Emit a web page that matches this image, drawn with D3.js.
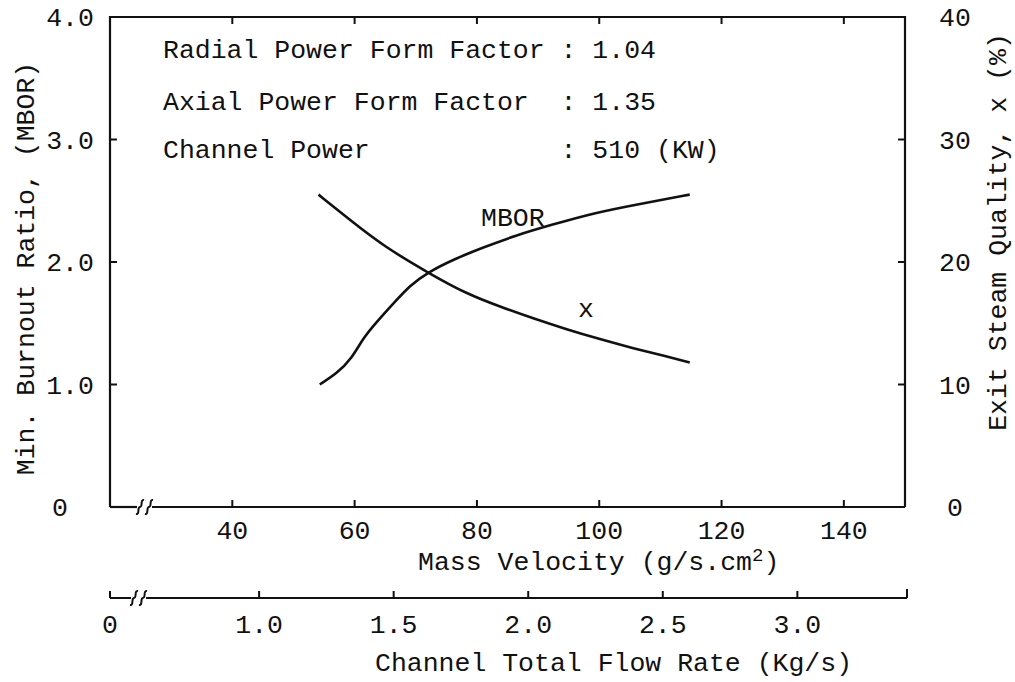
<!DOCTYPE html>
<html>
<head>
<meta charset="utf-8">
<script src="https://cdn.jsdelivr.net/npm/d3@7"></script>
<style>
  html, body { margin: 0; padding: 0; background: #fff; }
  svg { display: block; }
  text { font-family: "Liberation Mono", "Courier New", monospace; fill: #111; white-space: pre; }
</style>
</head>
<body>
<svg id="chart" width="1015" height="682"></svg>
<script>
// Mass velocity G (g/s.cm2) and the two curves read against it
const massVelocityMBOR = [54.3, 57.1, 59.5, 61.4, 63.6, 66.3, 69.1, 71.8, 76.1, 81.1, 86.5, 92.0, 99.0, 107.2, 114.8];
const mborValues       = [1.00, 1.09, 1.21, 1.38, 1.51, 1.66, 1.81, 1.91, 2.02, 2.12, 2.22, 2.30, 2.40, 2.48, 2.55];
const massVelocityX    = [54.1, 59.3, 64.7, 72.1, 78.3, 83.8, 89.2, 94.7, 100.1, 105.6, 111.0, 114.8];
const qualityValues    = [25.5, 23.4, 21.3, 19.1, 17.4, 16.35, 15.4, 14.5, 13.7, 12.95, 12.3, 11.8];

// Axis ticks and labels
const velocityTicks = [40, 60, 80, 100, 120, 140];
const flowTicks     = [1.0, 1.5, 2.0, 2.5, 3.0];
const flowTickLabels = ["1.0", "1.5", "2.0", "2.5", "3.0"];
const mborTicks     = [0, 1, 2, 3, 4];
const mborTickLabels = ["0", "1.0", "2.0", "3.0", "4.0"];
const qualityTicks  = [0, 10, 20, 30, 40];

// Operating conditions printed inside the frame
const conditionNames  = ["Radial Power Form Factor", "Axial Power Form Factor", "Channel Power"];
const conditionValues = ["1.04", "1.35", "510 (KW)"];

const svg = d3.select("#chart");
const ink = "#111";
const fs = 26.5;

const x  = d3.scaleLinear().domain([20, 150]).range([110, 905]);
const xf = d3.scaleLinear().domain([0.446, 3.40]).range([110, 905]);
const yM = d3.scaleLinear().domain([0, 4]).range([507, 17]);
const yQ = d3.scaleLinear().domain([0, 40]).range([507, 17]);

const plotL = x.range()[0], plotR = x.range()[1];
const plotT = yM.range()[1], plotB = yM.range()[0];

// Frame (left, top, right); bottom edge drawn with a break
svg.append("path")
  .attr("d", `M${plotL},${plotB} V${plotT} H${plotR} V${plotB}`)
  .attr("fill", "none").attr("stroke", ink).attr("stroke-width", 2.2);

// Break symbol: two small S-shaped strokes across the axis line
function breakMark(g, cx, cy) {
  [-4.5, 4.5].forEach(dx => {
    const bx = cx + dx;
    g.append("path")
      .attr("d", `M${bx - 4},${cy + 7} C${bx},${cy + 8} ${bx - 3},${cy} ${bx},${cy} C${bx + 3},${cy} ${bx},${cy - 8} ${bx + 4},${cy - 7}`)
      .attr("fill", "none").attr("stroke", ink).attr("stroke-width", 2);
  });
}

// Mass velocity axis along the bottom of the frame
const gx = svg.append("g");
gx.append("line").attr("x1", plotL).attr("x2", 137).attr("y1", plotB).attr("y2", plotB)
  .attr("stroke", ink).attr("stroke-width", 2.2);
gx.append("line").attr("x1", 152).attr("x2", plotR).attr("y1", plotB).attr("y2", plotB)
  .attr("stroke", ink).attr("stroke-width", 2.2);
breakMark(gx, 144.5, plotB);
velocityTicks.forEach(v => {
  gx.append("line").attr("x1", x(v)).attr("x2", x(v)).attr("y1", plotB).attr("y2", plotB - 7)
    .attr("stroke", ink).attr("stroke-width", 2);
  svg.append("line").attr("x1", x(v)).attr("x2", x(v)).attr("y1", plotT).attr("y2", plotT + 7)
    .attr("stroke", ink).attr("stroke-width", 2);
  gx.append("text").attr("x", x(v)).attr("y", 539).attr("text-anchor", "middle")
    .attr("font-size", fs).text(v);
});
const mv = svg.append("text").attr("x", 418).attr("y", 570).attr("font-size", fs);
mv.append("tspan").text("Mass Velocity (g/s.cm");
mv.append("tspan").attr("dy", -9).attr("font-size", 19).text("2");
mv.append("tspan").attr("dy", 9).text(")");

// Channel total flow rate axis
const fy = 598;
const gf = svg.append("g");
gf.append("line").attr("x1", plotL).attr("x2", plotL).attr("y1", fy - 7).attr("y2", fy)
  .attr("stroke", ink).attr("stroke-width", 2);
gf.append("line").attr("x1", plotL).attr("x2", 131).attr("y1", fy).attr("y2", fy)
  .attr("stroke", ink).attr("stroke-width", 2);
gf.append("line").attr("x1", 146).attr("x2", xf.range()[1] + 2).attr("y1", fy).attr("y2", fy)
  .attr("stroke", ink).attr("stroke-width", 2);
gf.append("line").attr("x1", xf.range()[1] + 2).attr("x2", xf.range()[1] + 2).attr("y1", fy - 9).attr("y2", fy)
  .attr("stroke", ink).attr("stroke-width", 2);
breakMark(gf, 138.5, fy);
flowTicks.forEach((f, i) => {
  gf.append("line").attr("x1", xf(f)).attr("x2", xf(f)).attr("y1", fy).attr("y2", fy - 7)
    .attr("stroke", ink).attr("stroke-width", 2);
  gf.append("text").attr("x", xf(f)).attr("y", 633).attr("text-anchor", "middle")
    .attr("font-size", fs).text(flowTickLabels[i]);
});
gf.append("text").attr("x", plotL).attr("y", 633).attr("text-anchor", "middle")
  .attr("font-size", fs).text("0");
svg.append("text").attr("x", 375).attr("y", 671).attr("font-size", fs)
  .text("Channel Total Flow Rate (Kg/s)");

// Left axis: minimum burnout ratio
mborTicks.forEach((m, i) => {
  if (m > 0 && m < 4) {
    svg.append("line").attr("x1", plotL).attr("x2", plotL + 7).attr("y1", yM(m)).attr("y2", yM(m))
      .attr("stroke", ink).attr("stroke-width", 2);
  }
  svg.append("text").attr("x", m === 0 ? 60 : 70).attr("y", yM(m) + 9).attr("text-anchor", "middle")
    .attr("font-size", fs).text(mborTickLabels[i]);
});
svg.append("text").attr("transform", `translate(34,${(55 + 482) / 2}) rotate(-90)`)
  .attr("text-anchor", "middle").attr("font-size", fs).text("Min. Burnout Ratio, (MBOR)");

// Right axis: exit steam quality
qualityTicks.forEach(q => {
  if (q > 0 && q < 40) {
    svg.append("line").attr("x1", plotR).attr("x2", plotR - 7).attr("y1", yQ(q)).attr("y2", yQ(q))
      .attr("stroke", ink).attr("stroke-width", 2);
  }
  svg.append("text").attr("x", 955).attr("y", yQ(q) + 9).attr("text-anchor", "middle")
    .attr("font-size", fs).text(q);
});
svg.append("text").attr("transform", `translate(1006,${(27 + 437) / 2}) rotate(-90)`)
  .attr("text-anchor", "middle").attr("font-size", fs).text("Exit Steam Quality, x (%)");

// Curves, smoothed with a B-spline through the read points
const line = d3.line().curve(d3.curveBasis);
svg.append("path")
  .attr("d", line(massVelocityMBOR.map((v, i) => [x(v), yM(mborValues[i])])))
  .attr("fill", "none").attr("stroke", ink).attr("stroke-width", 2.6);
svg.append("path")
  .attr("d", line(massVelocityX.map((v, i) => [x(v), yQ(qualityValues[i])])))
  .attr("fill", "none").attr("stroke", ink).attr("stroke-width", 2.6);

svg.append("text").attr("x", 481).attr("y", 226).attr("font-size", fs).text("MBOR");
svg.append("text").attr("x", 578).attr("y", 317).attr("font-size", fs).text("x");

// Operating conditions block, typed in fixed columns
const rowY = [58, 110, 158];
conditionNames.forEach((name, i) => {
  svg.append("text").attr("x", 163).attr("y", rowY[i]).attr("font-size", fs)
    .text(name.padEnd(25, " ") + ": " + conditionValues[i]);
});
</script>
</body>
</html>
